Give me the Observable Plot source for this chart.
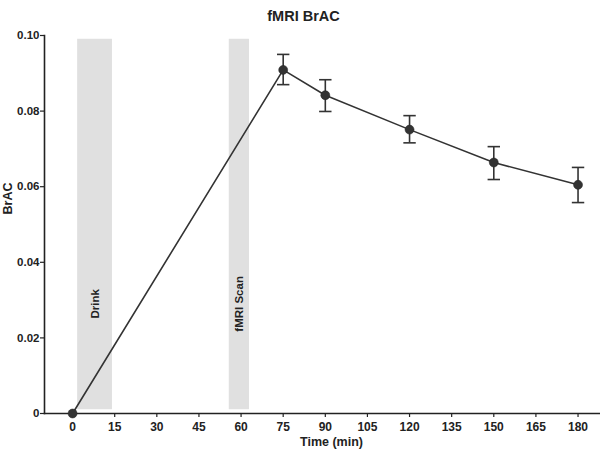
<!DOCTYPE html>
<html>
<head>
<meta charset="utf-8">
<script src="https://cdn.jsdelivr.net/npm/d3@7"></script>
<script src="https://cdn.jsdelivr.net/npm/@observablehq/plot@0.6"></script>
<style>
  html, body { margin: 0; padding: 0; background: #fff; }
  #chart svg { display: block; }
</style>
</head>
<body>
<div id="chart"></div>
<script>
// Data
const times = [0, 75, 90, 120, 150, 180];
const brac  = [0, 0.0909, 0.0842, 0.0751, 0.0664, 0.0605];
const errHi = [0, 0.0950, 0.0883, 0.0788, 0.0706, 0.0651];
const errLo = [0, 0.0870, 0.0799, 0.0716, 0.0619, 0.0558];

const bandLabels = ["Drink", "fMRI Scan"];
const bandStart  = [1.8, 55.8];
const bandEnd    = [14.2, 63];
const bandBottom = 0.001;
const bandTop    = 0.099;
const bandLabelY = 0.029;

const xTicks = [0, 15, 30, 45, 60, 75, 90, 105, 120, 135, 150, 165, 180];
const yTicks = [0, 0.02, 0.04, 0.06, 0.08, 0.10];

const points = times.map((t, i) => ({t, v: brac[i], hi: errHi[i], lo: errLo[i]}));
const errPts = points.filter(d => d.t > 0);
const bands = bandLabels.map((label, i) => ({label, x1: bandStart[i], x2: bandEnd[i], xm: (bandStart[i] + bandEnd[i]) / 2}));

const ink = "#333";
const capSymbol = {draw(ctx, size) { const w = Math.sqrt(size); ctx.moveTo(-w, 0); ctx.lineTo(w, 0); }};

const plot = Plot.plot({
  width: 600,
  height: 453,
  marginTop: 35,
  marginBottom: 40,
  marginLeft: 44,
  marginRight: 0,
  style: {fontFamily: "'Liberation Sans', Arial, sans-serif", fontSize: "11px", fontWeight: "bold", color: "#222"},
  x: {domain: [-10, 188]},
  y: {domain: [0, 0.1]},
  marks: [
    Plot.rectX(bands, {x1: "x1", x2: "x2", y1: bandBottom, y2: bandTop, fill: "#e0e0e0"}),
    Plot.text(bands, {x: "xm", y: bandLabelY, text: "label", rotate: -90, fill: "#222", fontSize: 11.5, fontWeight: "bold"}),
    Plot.frame({anchor: "left", stroke: "#222", strokeWidth: 1.6}),
    Plot.frame({anchor: "bottom", stroke: "#222", strokeWidth: 1.6}),
    Plot.axisX({ticks: xTicks, tickSize: 4, tickPadding: 5, label: null, stroke: "#222", strokeWidth: 1.2, fontSize: 12}),
    Plot.axisY({ticks: yTicks, tickSize: 4, tickPadding: 1, tickFormat: d => d === 0 ? "0" : d.toFixed(2), label: null, stroke: "#222", strokeWidth: 1.2, fontSize: 11.5}),
    Plot.text(["Time (min)"], {frameAnchor: "bottom", dy: 32, dx: 9, fontSize: 12.5, fontWeight: "bold", fill: "#222"}),
    Plot.text(["BrAC"], {frameAnchor: "left", dx: -37, dy: -10, rotate: -90, fontSize: 12.5, fontWeight: "bold", fill: "#222"}),
    Plot.text(["fMRI BrAC"], {frameAnchor: "top", dy: -25, dx: -19, fontSize: 14.5, fontWeight: "bold", fill: "#222"}),
    Plot.ruleX(errPts, {x: "t", y1: "lo", y2: "hi", stroke: ink, strokeWidth: 1.6}),
    Plot.dot(errPts, {x: "t", y: "hi", symbol: capSymbol, r: 3.5, stroke: ink, strokeWidth: 1.6}),
    Plot.dot(errPts, {x: "t", y: "lo", symbol: capSymbol, r: 3.5, stroke: ink, strokeWidth: 1.6}),
    Plot.line(points, {x: "t", y: "v", stroke: ink, strokeWidth: 1.6}),
    Plot.dot(points, {x: "t", y: "v", r: 4.5, fill: ink, stroke: "#222", strokeWidth: 0.5})
  ]
});
document.getElementById("chart").appendChild(plot);
</script>
</body>
</html>
